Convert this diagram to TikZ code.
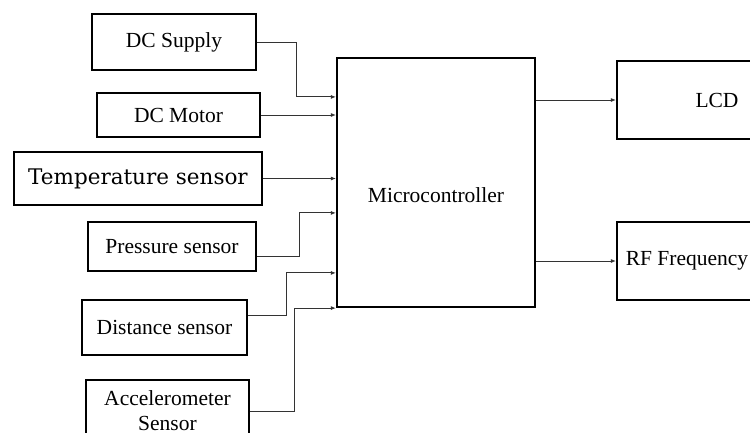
\documentclass[tikz,border=0pt]{standalone}
\usepackage{fontspec}
\setmainfont{Liberation Serif}
\newfontfamily\widefont{DejaVu Serif}
\usetikzlibrary{positioning, arrows.meta}

\begin{document}
\begin{tikzpicture}[
    x=1pt, y=-1pt,
    >={Latex[length=5pt,width=4pt]},
    every node/.style={font=\fontsize{21.5}{25}\selectfont},
    block/.style={draw=black, line width=2.2pt, align=center, inner sep=0pt},
    arrow/.style={->, line width=0.9pt, color=black!80},
]
\useasboundingbox (0,0) rectangle (750,432);
% inputs
\node[block, minimum width=164pt, minimum height=56pt] (n_dcs) at (174,42) {DC Supply};
\node[block, minimum width=163pt, minimum height=44pt] (n_dcm) at (178.5,115) {DC Motor};
\node[block, minimum width=248pt, minimum height=53pt, font=\widefont\fontsize{21.5}{25}\selectfont] (n_tmp) at (138,178.5) {Temperature sensor};
\node[block, minimum width=168pt, minimum height=49pt] (n_prs) at (172,246.5) {Pressure sensor};
\node[block, minimum width=165pt, minimum height=55pt] (n_dst) at (164.5,327.5) {Distance sensor};
\node[block, minimum width=163pt, minimum height=62pt] (n_acc) at (167.5,411) {Accelerometer\\Sensor};
% controller and outputs
\node[block, minimum width=198pt, minimum height=249pt] (n_mcu) at (436,182.5) {\raisebox{-20pt}[0pt][0pt]{Microcontroller}};
\node[block, minimum width=200pt, minimum height=78pt] (n_lcd) at (717,100) {LCD};
\node[block, minimum width=140pt, minimum height=78pt] (n_rf) at (687,261) {RF Frequency};
\draw[arrow] (n_dcs.east) -- ++(39,0) |- ([yshift=-40pt]n_mcu.north west);
\draw[arrow] (n_dcm.east) -- (n_dcm.east -| n_mcu.west);
\draw[arrow] (n_tmp.east) -- (n_tmp.east -| n_mcu.west);
\draw[arrow] ([yshift=-10pt]n_prs.east) -- ++(42,0) |- ([yshift=-156pt]n_mcu.north west);
\draw[arrow] ([yshift=12pt]n_dst.east) -- ++(38,0) |- ([yshift=-216pt]n_mcu.north west);
\draw[arrow] (n_acc.east) -- ++(44,0) |- (n_mcu.south west);
\draw[arrow] (n_mcu.east |- n_lcd.west) -- (n_lcd.west);
\draw[arrow] (n_mcu.east |- n_rf.west) -- (n_rf.west);
\end{tikzpicture}
\end{document}
